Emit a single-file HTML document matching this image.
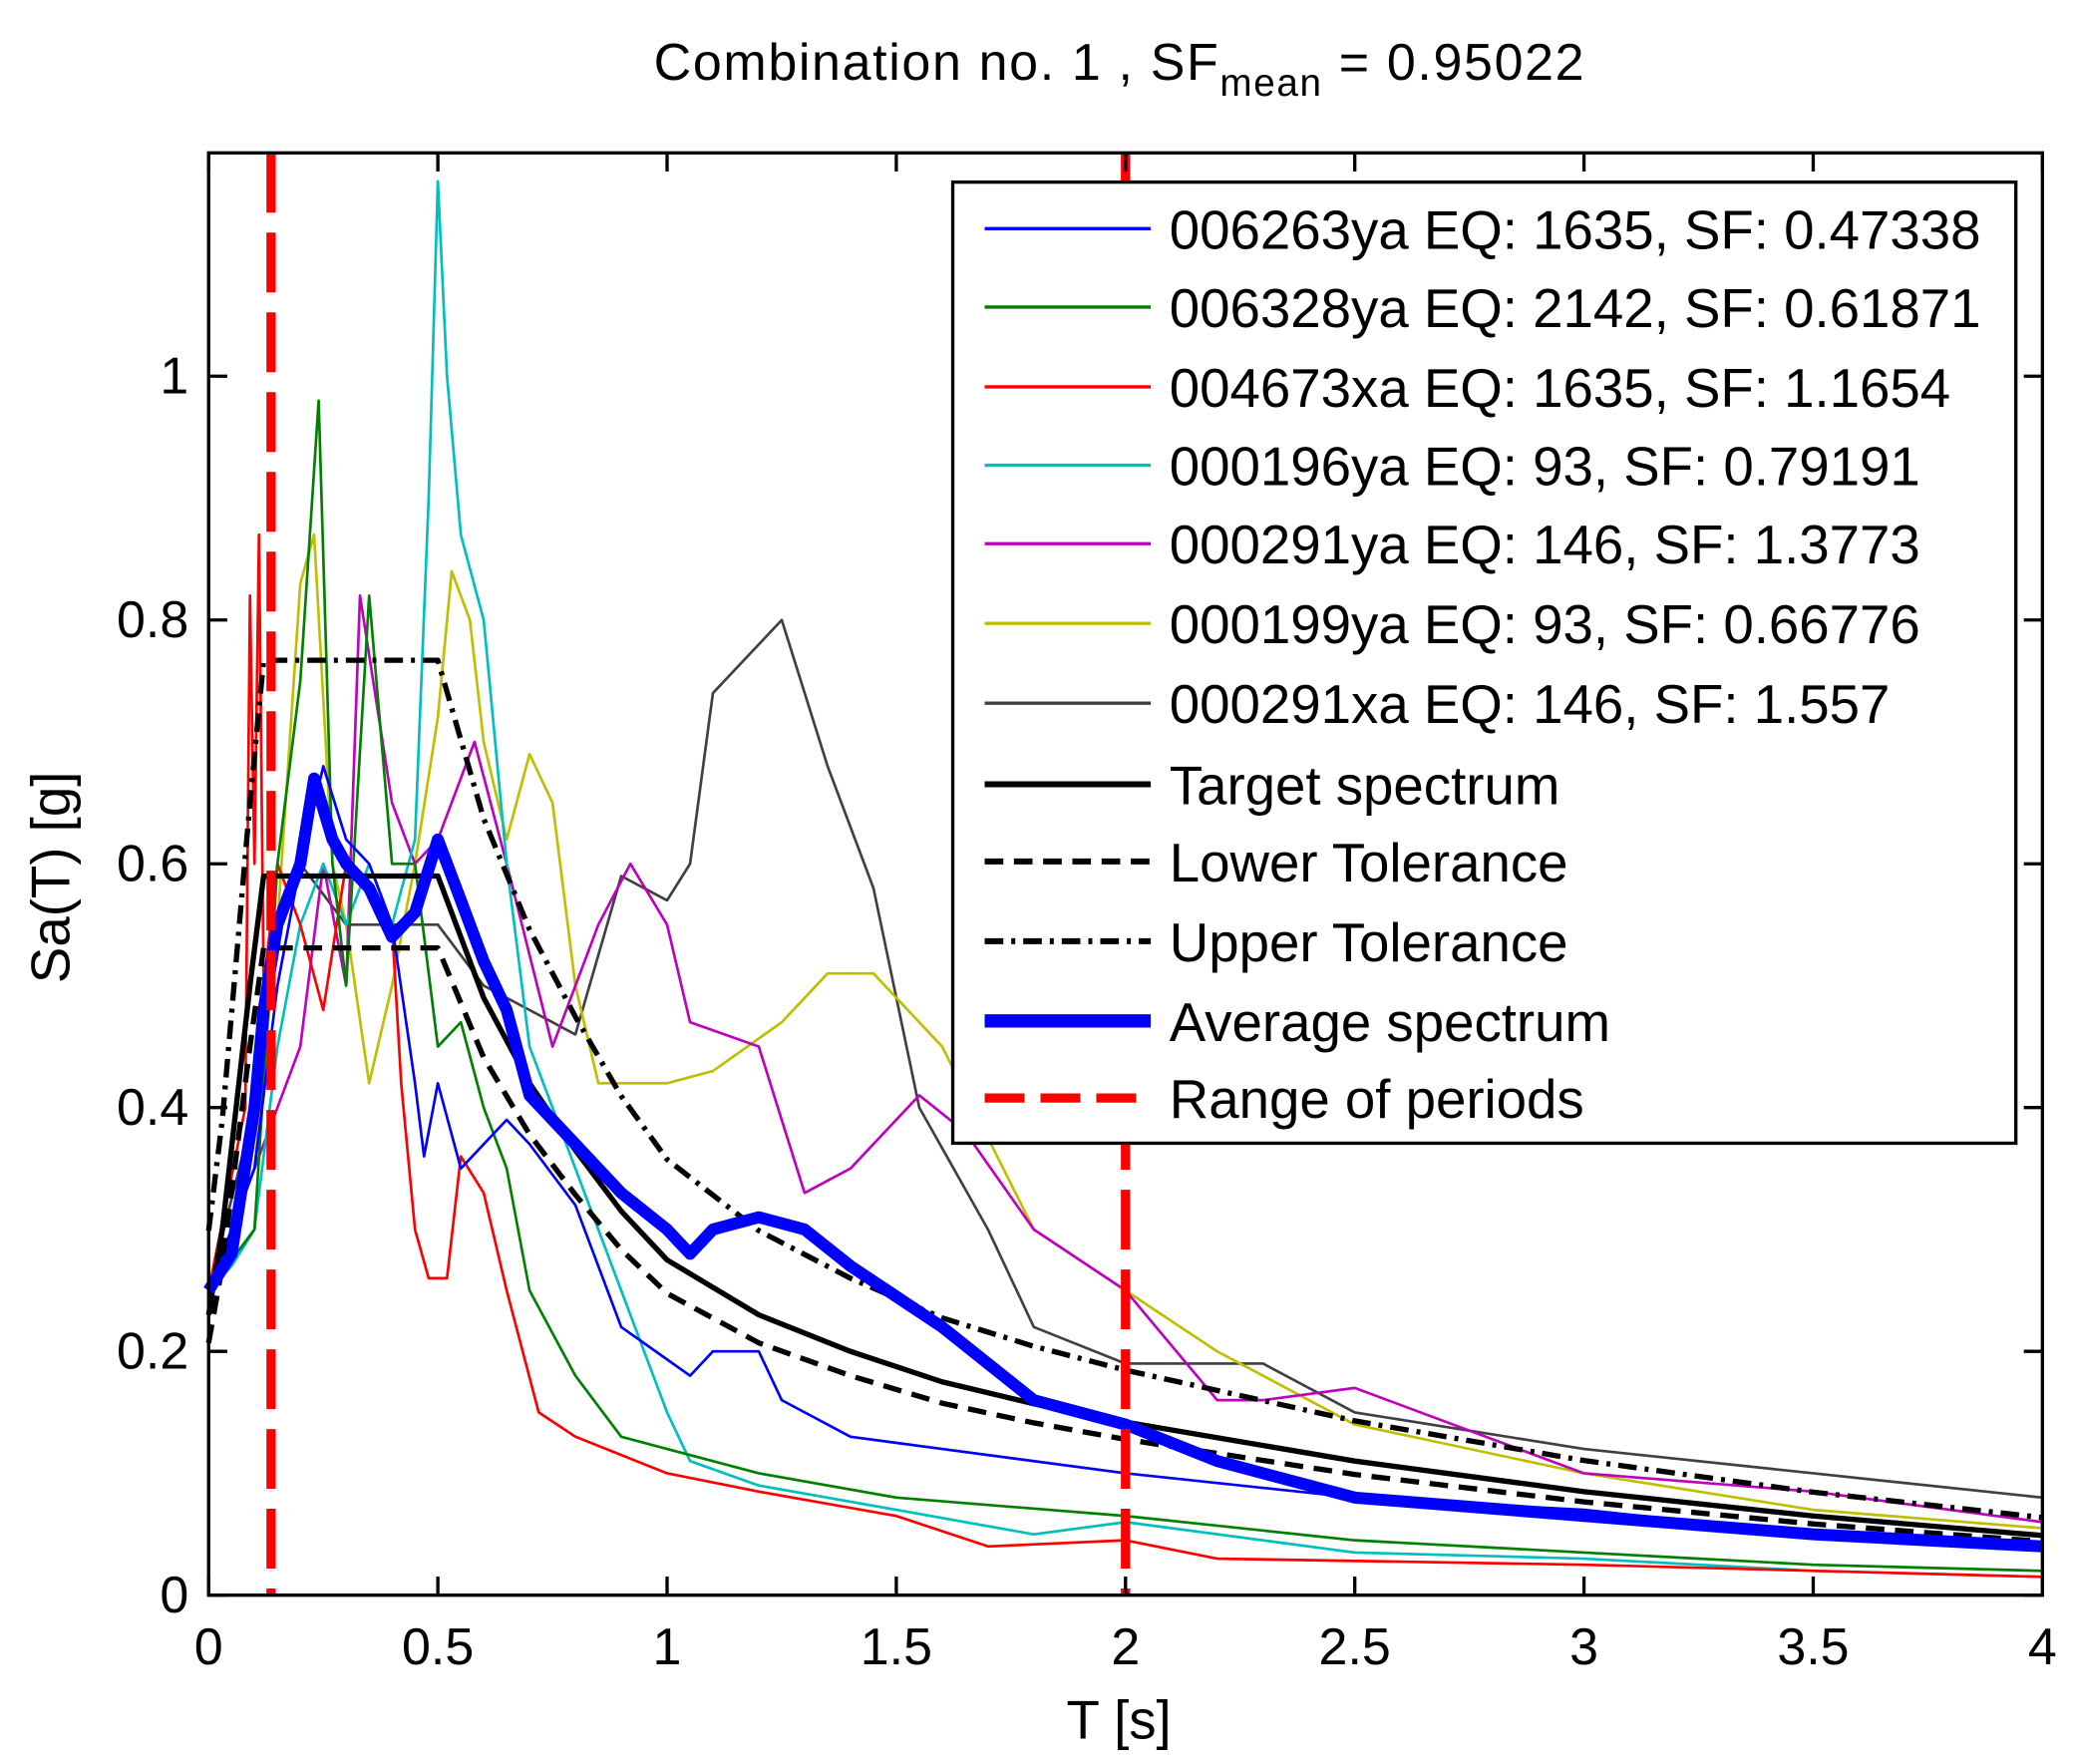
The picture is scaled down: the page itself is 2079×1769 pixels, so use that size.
<!DOCTYPE html>
<html><head><meta charset="utf-8"><style>html,body{margin:0;padding:0;background:#fff}svg{display:block}</style></head>
<body>
<svg id="s" width="2079" height="1769" viewBox="0 0 1560 1327" preserveAspectRatio="none" xmlns="http://www.w3.org/2000/svg" font-family="Liberation Sans, sans-serif">
<rect width="1560" height="1327" fill="#fff"/>
<g id="curves"></g>
<g id="frame" stroke="#000" stroke-width="2.5" fill="none"></g>
<text x="842" y="60" font-size="39" text-anchor="middle" fill="#000" textLength="700">Combination no. 1 , SF<tspan font-size="29" dy="12">mean</tspan><tspan dy="-12"> = 0.95022</tspan></text>
<text x="842" y="1308" font-size="41" text-anchor="middle">T [s]</text>
<text transform="translate(52,660) rotate(-90)" font-size="41" text-anchor="middle">Sa(T) [g]</text>
<g id="ticks" font-size="39"></g>
<g id="legend"></g>
</svg>
<script>
const NS="http://www.w3.org/2000/svg";
const X=t=>157+345*t, Y=a=>1200-917*a;
function el(tag,attrs,parent,text){const e=document.createElementNS(NS,tag);for(const k in attrs)e.setAttribute(k,attrs[k]);if(text!=null)e.textContent=text;document.getElementById(parent).appendChild(e);return e;}
function pl(pts,color,w,dash){el('polyline',{points:pts.map(p=>X(p[0]).toFixed(1)+','+Y(p[1]).toFixed(1)).join(' '),fill:'none',stroke:color,'stroke-width':w,'stroke-dasharray':dash||'none','stroke-linejoin':'round'},'curves');}
const cyan=[[0,.25],[.05,.27],[.1,.3],[.15,.45],[.2,.55],[.25,.6],[.3,.55],[.35,.6],[.4,.55],[.45,.62],[.48,.9],[.5,1.16],[.52,1.0],[.55,.87],[.6,.8],[.65,.6],[.7,.45],[.75,.4],[.8,.35],[.9,.25],[1.0,.15],[1.05,.11],[1.2,.09],[1.5,.07],[1.8,.05],[2.0,.06],[2.5,.035],[3,.03],[3.5,.02],[4,.015]];
const green=[[0,.25],[.1,.3],[.15,.6],[.2,.75],[.24,.98],[.27,.6],[.3,.5],[.35,.82],[.4,.6],[.45,.6],[.5,.45],[.55,.47],[.6,.4],[.65,.35],[.7,.25],[.8,.18],[.9,.13],[1.0,.12],[1.2,.1],[1.5,.08],[2.0,.065],[2.5,.045],[3,.035],[3.5,.025],[4,.02]];
const red=[[0,.25],[.08,.4],[.09,.82],[.1,.6],[.11,.87],[.12,.5],[.15,.6],[.2,.55],[.25,.48],[.3,.6],[.4,.55],[.42,.42],[.45,.3],[.48,.26],[.52,.26],[.55,.36],[.6,.33],[.65,.25],[.72,.15],[.8,.13],[1.0,.1],[1.2,.085],[1.5,.065],[1.7,.04],[2.0,.045],[2.2,.03],[3,.025],[4,.015]];
const mag=[[0,.25],[.1,.35],[.15,.4],[.2,.45],[.25,.6],[.3,.5],[.33,.82],[.4,.65],[.45,.6],[.5,.62],[.58,.7],[.65,.6],[.75,.45],[.85,.55],[.92,.6],[1.0,.55],[1.05,.47],[1.2,.45],[1.3,.33],[1.4,.35],[1.55,.41],[1.65,.38],[1.8,.3],[2.0,.25],[2.2,.16],[2.3,.16],[2.5,.17],[3,.1],[3.5,.085],[4,.06]];
const yel=[[0,.25],[.1,.35],[.15,.55],[.2,.83],[.23,.87],[.27,.6],[.3,.55],[.35,.42],[.4,.5],[.45,.6],[.5,.72],[.53,.84],[.57,.8],[.6,.7],[.65,.62],[.7,.69],[.75,.65],[.8,.5],[.85,.42],[1.0,.42],[1.1,.43],[1.25,.47],[1.35,.51],[1.45,.51],[1.6,.45],[1.8,.3],[2.0,.25],[2.2,.2],[2.5,.14],[3,.1],[3.5,.07],[4,.055]];
const gray=[[0,.25],[.1,.4],[.15,.55],[.2,.6],[.3,.55],[.4,.55],[.5,.55],[.6,.5],[.7,.48],[.8,.46],[.9,.59],[1.0,.57],[1.05,.6],[1.1,.74],[1.25,.8],[1.35,.68],[1.45,.58],[1.55,.4],[1.7,.3],[1.8,.22],[2.0,.19],[2.3,.19],[2.5,.15],[3,.12],[3.5,.1],[4,.08]];
const blue=[[0,.25],[.1,.35],[.15,.5],[.2,.6],[.25,.68],[.3,.62],[.35,.6],[.4,.55],[.45,.42],[.47,.36],[.5,.42],[.55,.35],[.65,.39],[.7,.37],[.8,.32],[.9,.22],[1.05,.18],[1.1,.2],[1.2,.2],[1.25,.16],[1.4,.13],[1.6,.12],[2.0,.1],[2.5,.08],[3,.07],[3.5,.05],[4,.04]];
const avg=[[0,.25],[.05,.28],[.1,.4],[.12,.48],[.15,.55],[.2,.6],[.23,.67],[.27,.62],[.3,.6],[.35,.58],[.4,.54],[.45,.56],[.5,.62],[.55,.57],[.6,.52],[.65,.48],[.7,.41],[.8,.37],[.9,.33],[1.0,.3],[1.05,.28],[1.1,.3],[1.2,.31],[1.3,.3],[1.4,.27],[1.6,.22],[1.8,.16],[2.0,.14],[2.2,.11],[2.5,.08],[3,.065],[3.5,.05],[4,.04]];
const tgt=[[0,.23],[.03,.3],[.06,.4],[.09,.5],[.12,.59],[.5,.59],[.6,.49],[.7,.42],[.8,.365],[.9,.315],[1.0,.275],[1.2,.23],[1.4,.2],[1.6,.175],[1.8,.157],[2.0,.142],[2.5,.11],[3,.085],[3.5,.065],[4,.049]];
const sc=f=>tgt.map(p=>[p[0],p[1]*f]);
pl(gray,'#404040',2);pl(yel,'#bfbf00',2);pl(mag,'#bf00bf',2);pl(cyan,'#00bfbf',2);pl(red,'#ff0000',2);pl(green,'#008000',2);pl(blue,'#0000ff',2);
pl(tgt,'#000',4);pl(sc(0.9),'#000',4,'14 8');pl(sc(1.3),'#000',4,'14 6 3 6');
pl(avg,'#0000ff',9);
el('line',{x1:204,y1:115,x2:204,y2:1200,stroke:'#f00','stroke-width':7,'stroke-dasharray':'45 15'},'curves');
el('line',{x1:847,y1:115,x2:847,y2:1200,stroke:'#f00','stroke-width':7,'stroke-dasharray':'45 15'},'curves');
el('rect',{x:157,y:115,width:1380,height:1085},'frame');
for(let i=0;i<=8;i++){const t=i*0.5,x=X(t);el('line',{x1:x,y1:1200,x2:x,y2:1186},'frame');el('line',{x1:x,y1:115,x2:x,y2:129},'frame');
el('text',{x:x,y:1252,'text-anchor':'middle'},'ticks',String(t));}
for(let i=0;i<=5;i++){const a=i*0.2,y=Y(a);el('line',{x1:157,y1:y,x2:171,y2:y},'frame');el('line',{x1:1537,y1:y,x2:1523,y2:y},'frame');
el('text',{x:142,y:y+13,'text-anchor':'end'},'ticks',i==5?'1':(i==0?'0':a.toFixed(1)));}
el('rect',{x:717,y:137,width:800,height:723,fill:'#fff',stroke:'#000','stroke-width':2.5},'legend');
const L=[['006263ya EQ: 1635, SF: 0.47338','#0000ff',2.5],['006328ya EQ: 2142, SF: 0.61871','#008000',2.5],['004673xa EQ: 1635, SF: 1.1654','#ff0000',2.5],['000196ya EQ: 93, SF: 0.79191','#00bfbf',2.5],['000291ya EQ: 146, SF: 1.3773','#bf00bf',2.5],['000199ya EQ: 93, SF: 0.66776','#bfbf00',2.5],['000291xa EQ: 146, SF: 1.557','#404040',2.5],['Target spectrum','#000',4.5],['Lower Tolerance','#000',4.5,'14 8'],['Upper Tolerance','#000',4.5,'14 6 3 6'],['Average spectrum','#0000ff',10],['Range of periods','#f00',7,'30 12']];
const ys=[172,231,291,350,409,469,529,590,648,708,768,826];
L.forEach((d,i)=>{el('line',{x1:741,y1:ys[i],x2:866,y2:ys[i],stroke:d[1],'stroke-width':d[2],'stroke-dasharray':d[3]||'none'},'legend');
el('text',{x:880,y:ys[i]+15,'font-size':41},'legend',d[0]);});
</script>
</body></html>
